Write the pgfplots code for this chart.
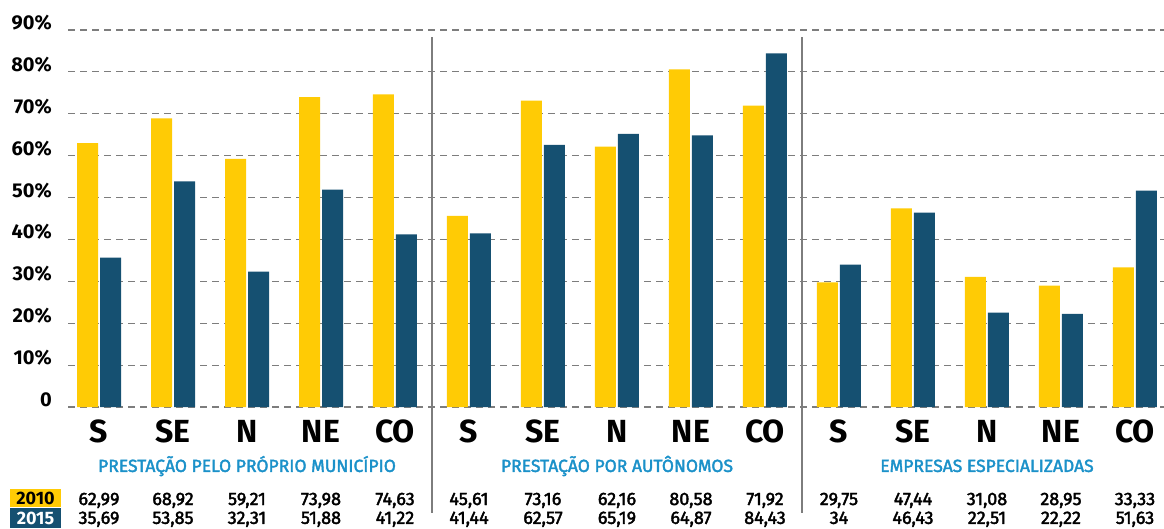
\documentclass[border=0pt]{standalone}
\usepackage{fontspec}
\setmainfont{Fira Sans}
\newfontfamily\med{Fira Sans}[FakeBold=2.2]
\usepackage{pgfplots}
\usepackage{pgfplotstable}
\pgfplotsset{compat=1.18}
\definecolor{cy}{RGB}{255,203,5}
\definecolor{cb}{RGB}{21,80,113}
\definecolor{cl}{RGB}{27,145,201}
\definecolor{gr}{RGB}{125,125,125}
\pgfplotstableread{
x y10 y15 l10 l15
0 62.99 35.69 62,99 35,69
1 68.92 53.85 68,92 53,85
2 59.21 32.31 59,21 32,31
3 73.98 51.88 73,98 51,88
4 74.63 41.22 74,63 41,22
5 45.61 41.44 45,61 41,44
6 73.16 62.57 73,16 62,57
7 62.16 65.19 62,16 65,19
8 80.58 64.87 80,58 64,87
9 71.92 84.43 71,92 84,43
10 29.75 34.00 29,75 34
11 47.44 46.43 47,44 46,43
12 31.08 22.51 31,08 22,51
13 28.95 22.22 28,95 22,22
14 33.33 51.63 33,33 51,63
}\data
\begin{document}
\begin{tikzpicture}
\useasboundingbox (0,0) rectangle (1164pt,528pt);
\begin{axis}[
  at={(68pt,121pt)}, anchor=south west,
  scale only axis, width=1096pt, height=377pt,
  xmin=-0.419, xmax=14.392, ymin=0, ymax=90,
  clip=false,
  axis line style={draw=none},
  major tick length=0pt,
  ymajorgrids,
  grid style={gr, line width=1.2pt, dash pattern=on 7pt off 5pt},
  ytick={0,10,...,90},
  yticklabels={0,10\%,20\%,30\%,40\%,50\%,60\%,70\%,80\%,90\%},
  yticklabel style={font=\bfseries\fontsize{20}{20}\selectfont, anchor=base east, inner sep=0pt, xshift=-16pt, yshift=0.5pt},
  xtick={0,...,14},
  xticklabels={S,SE,N,NE,CO,S,SE,N,NE,CO,S,SE,N,NE,CO},
  xticklabel style={font=\bfseries\fontsize{32}{32}\selectfont, anchor=base, inner sep=0pt, yshift=-35pt},
  /pgf/number format/assume math mode=true,
]
\addplot[ybar, bar width=21pt, bar shift=-11.5pt, fill=cy, draw=none] table[x=x,y=y10]{\data};
\addplot[ybar, bar width=21pt, bar shift=11.5pt, fill=cb, draw=none] table[x=x,y=y15]{\data};
\addplot[draw=none, nodes near coords, point meta=explicit symbolic,
  nodes near coords style={anchor=base, inner sep=0pt, font=\med\fontsize{18}{18}\selectfont}]
  table[x=x, y expr=-23.4, meta=l10]{\data};
\addplot[draw=none, nodes near coords, point meta=explicit symbolic,
  nodes near coords style={anchor=base, inner sep=0pt, font=\med\fontsize{18}{18}\selectfont}]
  table[x=x, y expr=-27.9, meta=l15]{\data};
\draw[gr, line width=1.3pt] (axis cs:4.5,88.3) -- (axis cs:4.5,-25.3);
\draw[gr, line width=1.3pt] (axis cs:9.5,88.3) -- (axis cs:9.5,-25.3);
\node[font=\med\fontsize{17.5}{17.5}\selectfont, text=cl, anchor=base, inner sep=0pt] at (axis cs:2,-15.5) {PRESTAÇÃO PELO PRÓPRIO MUNICÍPIO};
\node[font=\med\fontsize{17.5}{17.5}\selectfont, text=cl, anchor=base, inner sep=0pt] at (axis cs:7,-15.5) {PRESTAÇÃO POR AUTÔNOMOS};
\node[font=\med\fontsize{17.5}{17.5}\selectfont, text=cl, anchor=base, inner sep=0pt] at (axis cs:12,-15.5) {EMPRESAS ESPECIALIZADAS};
\end{axis}
\fill[cy] (10pt,21pt) rectangle (61pt,39pt);
\fill[cb] (10pt,0pt) rectangle (61pt,20pt);
\node[anchor=base, inner sep=0pt, font=\bfseries\fontsize{18}{18}\selectfont] at (35.5pt,24pt) {2010};
\node[anchor=base, inner sep=0pt, text=white, font=\bfseries\fontsize{18}{18}\selectfont] at (35.5pt,4pt) {2015};
\end{tikzpicture}
\end{document}
